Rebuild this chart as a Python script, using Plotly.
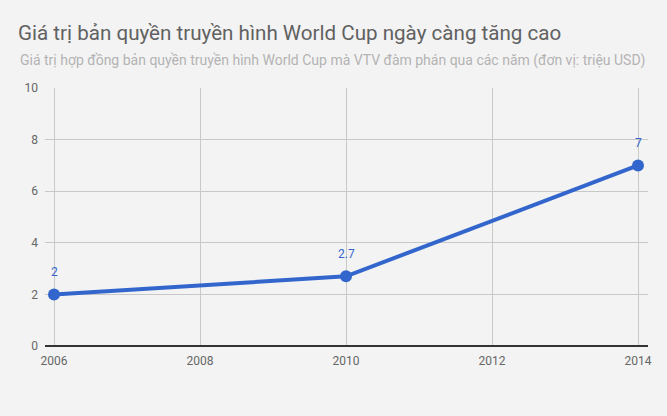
import plotly.graph_objects as go

years = [2006, 2010, 2014]
values = [2, 2.7, 7]
labels = ["2", "2.7", "7"]
x_ticks = [2006, 2008, 2010, 2012, 2014]
y_ticks = [0, 2, 4, 6, 8, 10]

title = "Giá trị bản quyền truyền hình World Cup ngày càng tăng cao"
subtitle = "Giá trị hợp đồng bản quyền truyền hình World Cup mà VTV đàm phán qua các năm (đơn vị: triệu USD)"

blue = "#3366cc"
bg = "#f3f3f3"

fig = go.Figure(go.Scatter(
    x=years,
    y=values,
    mode="lines+markers",
    line=dict(color=blue, width=4),
    marker=dict(color=blue, size=12),
    cliponaxis=False,
    hoverinfo="x+y",
))

# data labels above the points
notes = [dict(
    x=x, y=y, text=t, xref="x", yref="y",
    showarrow=False, yshift=22, yanchor="middle",
    font=dict(size=12, color=blue),
) for x, y, t in zip(years, values, labels)]

notes.append(dict(
    text=subtitle,
    xref="paper",
    yref="paper",
    x=(18 - 45) / 603,
    y=1 + (88 - 60) / 258,
    xanchor="left",
    yanchor="middle",
    showarrow=False,
    font=dict(size=14, color="#b3b3b3"),
))

fig.update_layout(
    width=667,
    height=416,
    paper_bgcolor=bg,
    plot_bgcolor=bg,
    font=dict(family="Roboto", color="#666666", size=12),
    margin=dict(l=45, r=19, t=88, b=70),
    showlegend=False,
    title=dict(
        text=title,
        x=18 / 667,
        xanchor="left",
        xref="container",
        y=1 - 33 / 416,
        yanchor="middle",
        yref="container",
        font=dict(size=20.6, color="#616161"),
    ),
    annotations=notes,
)

fig.update_xaxes(
    range=[2006 - 9 / 73, 2014 + 10 / 73],
    tickvals=x_ticks,
    ticktext=[str(t) for t in x_ticks],
    showgrid=True,
    gridcolor="#c8c8c8",
    gridwidth=1,
    zeroline=False,
    showline=False,
    ticks="",
    ticklabelstandoff=6,
)
fig.update_yaxes(
    range=[0, 10],
    tickvals=y_ticks,
    showgrid=True,
    gridcolor="#c8c8c8",
    gridwidth=1,
    zeroline=True,
    zerolinecolor="#333333",
    zerolinewidth=2,
    showline=False,
    ticks="",
    ticklabelstandoff=6,
)

fig.write_html(
    "out.html",
    config={"displayModeBar": False},
    post_script="document.body.style.margin='0';document.body.style.background='#f3f3f3';",
)
